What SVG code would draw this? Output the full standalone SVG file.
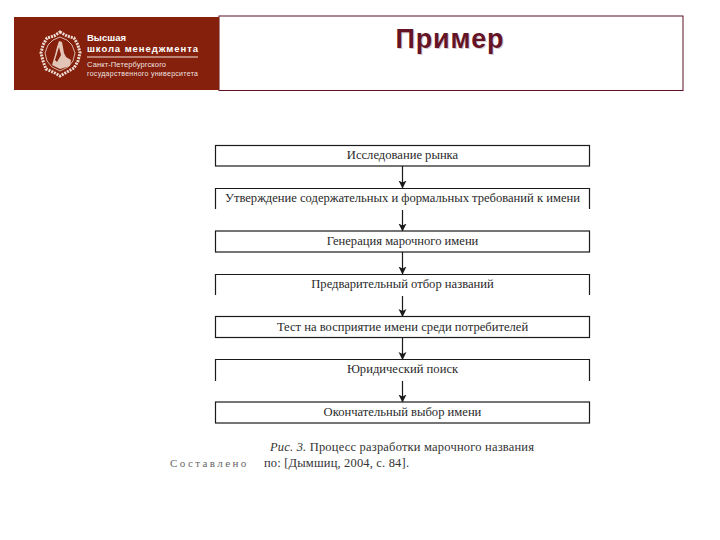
<svg xmlns="http://www.w3.org/2000/svg" width="720" height="540" viewBox="0 0 720 540">
<style>
.b{fill:none;stroke:#1a1a1a;stroke-width:1.2}
.t{font-family:"Liberation Serif",serif;font-size:12.600px;fill:#2a2a2a;text-anchor:middle}
.c{stroke:#1a1a1a;stroke-width:1.2;fill:none;marker-end:url(#a)}
.w{font-family:"Liberation Sans",sans-serif;fill:#fff}
.e{fill:none;stroke:#efdcd2}
</style>
<defs>
<marker id="a" markerUnits="userSpaceOnUse" markerWidth="8" markerHeight="9" refX="7.500" refY="4" orient="auto"><path d="M0 0L8 4L0 8L2 4Z" fill="#1a1a1a"/></marker>
</defs>
<rect width="720" height="540" fill="#fff"/>
<g id="header">
<rect x="219" y="16" width="464" height="74.500" fill="#fff" stroke="#5c1020" stroke-width="1"/>
<text x="395.500" y="47.500" font-family="Liberation Sans,sans-serif" font-size="27" font-weight="bold" fill="#d8ccd0" textLength="108" transform="translate(1 1.500)">Пример</text>
<text x="395.500" y="47.500" font-family="Liberation Sans,sans-serif" font-size="27" font-weight="bold" fill="#641426" textLength="108">Пример</text>
</g>
<g id="logo">
<rect x="14" y="17" width="205" height="73" fill="#84200c"/>
<path class="e" d="M60 32L67 36L74 38L78 45L80 53L78 61L74 68L67 72L60 76L53 72L46 69L43 61L41 53L43 45L47 38L54 36Z" stroke-width="3" stroke-dasharray="2 1"/>
<path class="e" d="M60 37L67 40L72 45L75 53L73 61L68 67L60 71L52 67L47 61L45 53L48 45L53 40Z" stroke-width="0.800"/>
<path d="M59 41L62 42L64 53L66 57L71 60L70 66L60 69L52 65L55 55L57 47Z" fill="#e3c5b8"/>
<path d="M59 47L61 55L57 62L55 60Z" fill="#84200c"/>
<text class="w" x="87" y="41" font-size="9.500" font-weight="bold">Высшая</text>
<text class="w" x="87" y="51.500" font-size="9.500" font-weight="bold" textLength="111">школа менеджмента</text>
<rect x="87" y="56.500" width="111" height="1" fill="#f3e2d8"/>
<text class="w" x="87" y="67" font-size="7.500" textLength="79" fill-opacity="0.9">Санкт-Петербургского</text>
<text class="w" x="87" y="76" font-size="7" textLength="111" fill-opacity="0.9">государственного университета</text>
</g>
<g id="connectors">
<path class="c" d="M402.500 166V188"/>
<path class="c" d="M402.500 210V231"/>
<path class="c" d="M402.500 252V274"/>
<path class="c" d="M402.500 296V316.500"/>
<path class="c" d="M402.500 338V359.500"/>
<path class="c" d="M402.500 381V402"/>
</g>
<g id="n1"><rect class="b" x="215.500" y="145.500" width="374" height="20.500"/><text class="t" x="402.500" y="159">Исследование рынка</text></g>
<g id="n2"><path class="b" d="M215.500 209V188.500H589.500V209"/><text class="t" x="402.500" y="202" textLength="355">Утверждение содержательных и формальных требований к имени</text></g>
<g id="n3"><rect class="b" x="215.500" y="231" width="374" height="21"/><text class="t" x="402.500" y="245">Генерация марочного имени</text></g>
<g id="n4"><path class="b" d="M215.500 295V274.500H589.500V295"/><text class="t" x="402.500" y="288">Предварительный отбор названий</text></g>
<g id="n5"><rect class="b" x="215.500" y="316.500" width="374" height="21"/><text class="t" x="402.500" y="331">Тест на восприятие имени среди потребителей</text></g>
<g id="n6"><path class="b" d="M215.500 381V359.500H589.500V381"/><text class="t" x="402.500" y="373">Юридический поиск</text></g>
<g id="n7"><rect class="b" x="215.500" y="402" width="374" height="21"/><text class="t" x="402.500" y="416">Окончательный выбор имени</text></g>
<g id="caption" font-family="Liberation Serif,serif" font-size="12.500" fill="#333">
<text x="270" y="451" textLength="264"><tspan font-style="italic">Рис. 3.</tspan> Процесс разработки марочного названия</text>
<text x="170" y="467" fill="#666" font-size="11" letter-spacing="2.400">Составлено</text>
<text x="264" y="467" textLength="145">по: [Дымшиц, 2004, с. 84].</text>
</g>
</svg>
